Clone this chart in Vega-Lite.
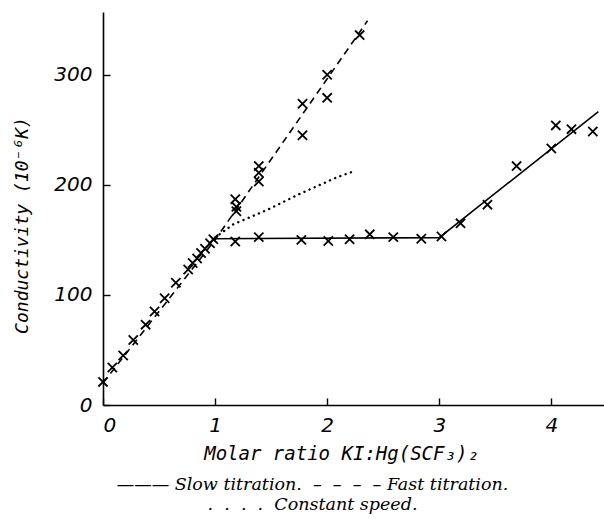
{
  "$schema": "https://vega.github.io/schema/vega-lite/v6.json",
  "autosize": "none",
  "width": 501,
  "height": 393,
  "padding": {"left": 103, "top": 12, "right": 0, "bottom": 114},
  "background": "white",
  "config": {
    "view": {"stroke": null},
    "axis": {
      "grid": false,
      "domainColor": "black",
      "domainWidth": 1.6,
      "tickColor": "black",
      "tickWidth": 1.4,
      "tickSize": -7,
      "labelFont": "DejaVu Sans",
      "labelFontStyle": "italic",
      "labelFontSize": 20,
      "labelColor": "black",
      "titleFont": "DejaVu Sans Mono",
      "titleFontStyle": "italic",
      "titleFontWeight": "normal",
      "titleFontSize": 19,
      "titleColor": "black"
    },
    "title": {
      "font": "DejaVu Serif",
      "fontStyle": "italic",
      "fontWeight": "normal",
      "fontSize": 17.5,
      "color": "black"
    }
  },
  "title": {
    "text": ["———\u00a0Slow titration.\u00a0\u00a0–\u00a0\u00a0–\u00a0\u00a0–\u00a0\u00a0–\u00a0Fast titration.", ".\u00a0\u00a0.\u00a0\u00a0.\u00a0\u00a0.\u00a0\u00a0Constant speed."],
    "orient": "bottom",
    "anchor": "middle",
    "dx": -41,
    "offset": 13,
    "baseline": "top",
    "lineHeight": 20
  },
  "datasets": {
    "lines": [
      {"series": "Fast", "ratio": 0, "cond": 20},
      {"series": "Fast", "ratio": 1, "cond": 150},
      {"series": "Fast", "ratio": 2.36, "cond": 349},
      {"series": "Slow", "ratio": 0.97, "cond": 151},
      {"series": "Slow", "ratio": 3.0, "cond": 152},
      {"series": "Slow", "ratio": 4.42, "cond": 266.6},
      {"series": "Constant", "ratio": 1.0, "cond": 152},
      {"series": "Constant", "ratio": 1.16, "cond": 164},
      {"series": "Constant", "ratio": 1.46, "cond": 177},
      {"series": "Constant", "ratio": 1.76, "cond": 192},
      {"series": "Constant", "ratio": 2.09, "cond": 207},
      {"series": "Constant", "ratio": 2.23, "cond": 212}
    ],
    "points": [
      {"ratio": 0, "cond": 21},
      {"ratio": 0.083, "cond": 34},
      {"ratio": 0.18, "cond": 45},
      {"ratio": 0.27, "cond": 59},
      {"ratio": 0.38, "cond": 73},
      {"ratio": 0.46, "cond": 85},
      {"ratio": 0.55, "cond": 97},
      {"ratio": 0.65, "cond": 111},
      {"ratio": 0.76, "cond": 123},
      {"ratio": 0.8, "cond": 129},
      {"ratio": 0.84, "cond": 133},
      {"ratio": 0.875, "cond": 138},
      {"ratio": 0.91, "cond": 142},
      {"ratio": 0.955, "cond": 147},
      {"ratio": 0.985, "cond": 150.6},
      {"ratio": 1.18, "cond": 187},
      {"ratio": 1.19, "cond": 180},
      {"ratio": 1.19, "cond": 176},
      {"ratio": 1.39, "cond": 217},
      {"ratio": 1.39, "cond": 211},
      {"ratio": 1.39, "cond": 203},
      {"ratio": 1.78, "cond": 273.6},
      {"ratio": 1.78, "cond": 245},
      {"ratio": 2.0, "cond": 300},
      {"ratio": 2.0, "cond": 279},
      {"ratio": 2.29, "cond": 336},
      {"ratio": 1.18, "cond": 148.5},
      {"ratio": 1.39, "cond": 152.5},
      {"ratio": 1.77, "cond": 150},
      {"ratio": 2.01, "cond": 149},
      {"ratio": 2.2, "cond": 150.6},
      {"ratio": 2.38, "cond": 155},
      {"ratio": 2.59, "cond": 152.5},
      {"ratio": 2.84, "cond": 151},
      {"ratio": 3.02, "cond": 153},
      {"ratio": 3.19, "cond": 165},
      {"ratio": 3.43, "cond": 182},
      {"ratio": 3.69, "cond": 217},
      {"ratio": 4.0, "cond": 233},
      {"ratio": 4.04, "cond": 254},
      {"ratio": 4.18, "cond": 250.6},
      {"ratio": 4.37, "cond": 248.5}
    ]
  },
  "encoding": {
    "x": {
      "field": "ratio",
      "type": "quantitative",
      "scale": {"domain": [0, 4.47], "nice": false, "zero": false},
      "axis": {
        "values": [0, 1, 2, 3, 4],
        "format": "d",
        "labelPadding": 17,
        "title": "Molar ratio KI:Hg(SCF₃)₂",
        "titlePadding": 9,
        "titleX": 238
      }
    },
    "y": {
      "field": "cond",
      "type": "quantitative",
      "scale": {"domain": [0, 357], "nice": false},
      "axis": {
        "values": [0, 100, 200, 300],
        "labelPadding": 18,
        "title": "Conductivity (10⁻⁶K)",
        "titleFontSize": 18,
        "titleX": -81,
        "titleY": 213,
        "titleAngle": -90,
        "titleAlign": "center",
        "titleBaseline": "middle"
      }
    }
  },
  "layer": [
    {
      "data": {"name": "lines"},
      "transform": [{"filter": "datum.series === 'Fast'"}],
      "mark": {"type": "line", "color": "black", "strokeWidth": 1.6, "strokeDash": [7, 5]}
    },
    {
      "data": {"name": "lines"},
      "transform": [{"filter": "datum.series === 'Slow'"}],
      "mark": {"type": "line", "color": "black", "strokeWidth": 1.6}
    },
    {
      "data": {"name": "lines"},
      "transform": [{"filter": "datum.series === 'Constant'"}],
      "mark": {"type": "line", "color": "black", "strokeWidth": 2.4, "strokeDash": [0.1, 5.5], "strokeCap": "round"}
    },
    {
      "data": {"name": "points"},
      "mark": {"type": "point", "shape": "M-1,-1L1,1M-1,1L1,-1", "filled": false, "stroke": "black", "strokeWidth": 1.8, "size": 85, "opacity": 1}
    }
  ]
}
